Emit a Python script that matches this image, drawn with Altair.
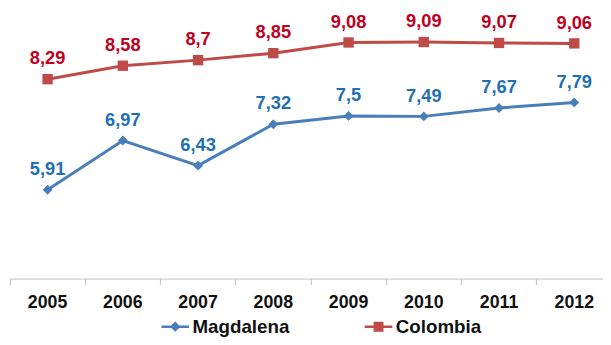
import altair as alt
import pandas as pd

years = ["2005", "2006", "2007", "2008", "2009", "2010", "2011", "2012"]
magdalena = [5.91, 6.97, 6.43, 7.32, 7.50, 7.49, 7.67, 7.79]
colombia = [8.29, 8.58, 8.70, 8.85, 9.08, 9.09, 9.07, 9.06]
series = ["Magdalena", "Colombia"]

line_colors = ["#4A7EBB", "#BE4B48"]
label_colors = ["#1F6FB5", "#C00020"]
marker_shapes = ["diamond", "square"]
marker_sizes = [100, 110]

rows = []
for name, vals in zip(series, [magdalena, colombia]):
    for y, v in zip(years, vals):
        rows.append({"anio": y, "valor": v, "serie": name})
df = pd.DataFrame(rows)

FONT = "Liberation Sans"

x = alt.X(
    "anio:N",
    sort=years,
    scale=alt.Scale(type="band", paddingInner=0, paddingOuter=0),
    axis=alt.Axis(
        title=None, labelAngle=0, bandPosition=0, grid=False,
        domainColor="#BFBFBF", tickColor="#BFBFBF", tickSize=6, domainWidth=1,
        labelFont=FONT, labelFontSize=18, labelFontWeight="bold", labelColor="#111111",
        labelPadding=9,
    ),
)
y = alt.Y("valor:Q", scale=alt.Scale(domain=[4, 9.775], nice=False, zero=False), axis=None)

base = alt.Chart(df)

layers = []
for i, name in enumerate(series):
    sub = base.transform_filter(alt.datum.serie == name)
    layers.append(sub.mark_line(strokeWidth=3, color=line_colors[i]).encode(x=x, y=y))
for i, name in enumerate(series):
    sub = base.transform_filter(alt.datum.serie == name)
    layers.append(
        sub.mark_point(filled=True, shape=marker_shapes[i], size=marker_sizes[i],
                       opacity=1, color=line_colors[i]).encode(x=x, y=y)
    )
for i, name in enumerate(series):
    sub = base.transform_filter(alt.datum.serie == name)
    layers.append(
        sub.transform_calculate(lbl="replace(toString(datum.valor), '.', ',')")
        .mark_text(dy=-15, baseline="alphabetic", font=FONT, fontSize=18.5,
                   fontWeight="bold", color=label_colors[i])
        .encode(x=x, y=y, text="lbl:N")
    )

diamond_path = ("M-1,0H1 M-0.25,0L0,-0.25L0.25,0L0,0.25Z "
                "M-0.12,0L0,-0.12L0.12,0L0,0.12Z")
square_path = ("M-1,0H1 M-0.27,-0.27H0.27V0.27H-0.27Z "
               "M-0.15,-0.15H0.15V0.15H-0.15Z M-0.04,-0.04H0.04V0.04H-0.04Z")

legend = alt.Legend(
    title=None, orient="none", direction="horizontal", legendX=152, legendY=305,
    labelFont=FONT, labelFontSize=19, labelFontWeight="bold", labelColor="#111111",
    labelOffset=2, columnPadding=70, symbolSize=784, symbolStrokeWidth=2.5,
    symbolOpacity=1,
)

legend_layer = base.mark_point(filled=False, size=784, strokeWidth=2.5, opacity=0).encode(
    x=x, y=y,
    color=alt.Color("serie:N", scale=alt.Scale(domain=series, range=line_colors), legend=legend),
    shape=alt.Shape("serie:N", scale=alt.Scale(domain=series, range=[diamond_path, square_path]),
                    legend=legend),
)
layers.append(legend_layer)

# the plot area is wider than the page; the right padding is negative so the
# drawing is cut at the window edge, as in the reference
chart = alt.layer(*layers).properties(
    width=610, height=272,
    autosize=alt.AutoSizeParams(type="none"),
    padding={"left": 2, "top": 0, "right": -9, "bottom": 57},
).configure_view(stroke=None)

chart.save("out.html", embed_options={"renderer": "svg", "actions": False})
